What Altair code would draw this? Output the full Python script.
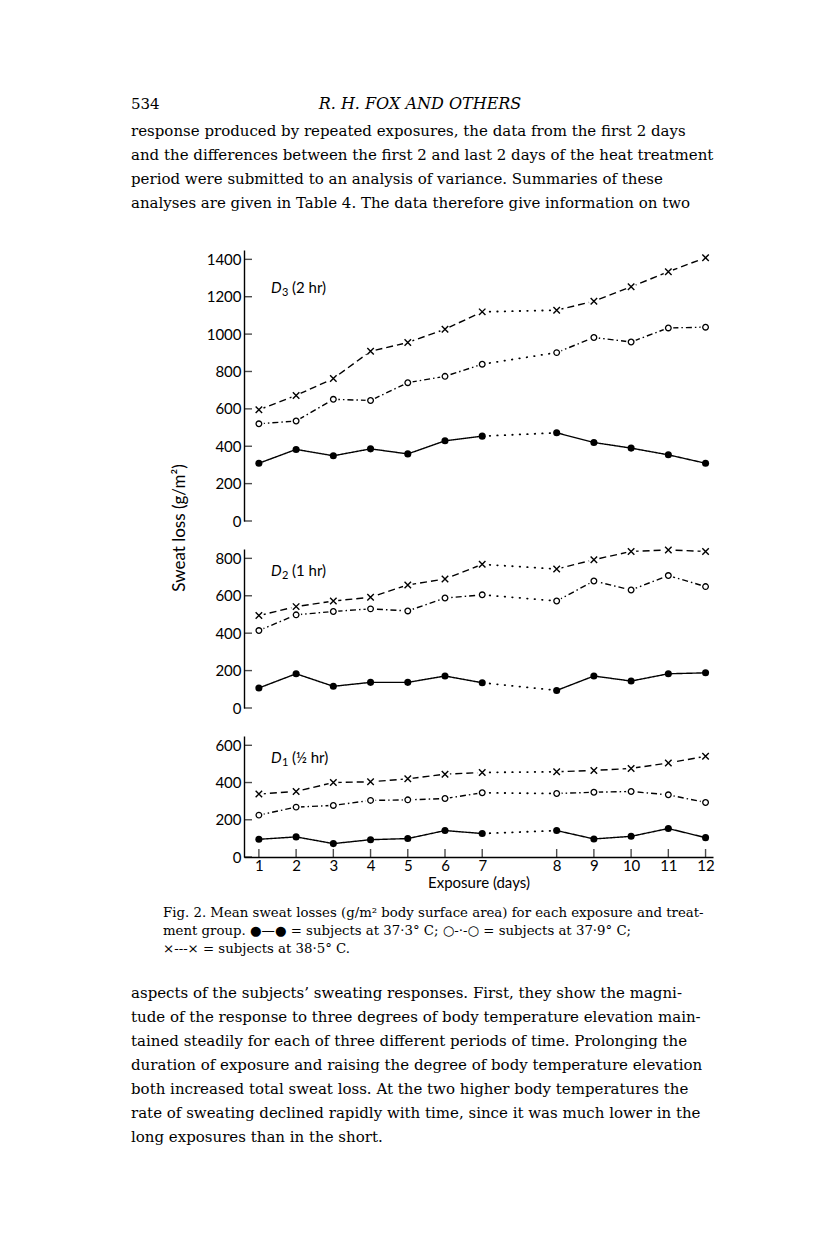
import altair as alt
import pandas as pd

# ---------------- data ----------------
days = list(range(1, 13))
groups = ["37.3", "37.9", "38.5"]

d3_filled = [309, 383, 349, 386, 359, 429, 454, 472, 420, 390, 354, 309]
d3_open = [520, 535, 651, 645, 740, 774, 839, 901, 982, 958, 1033, 1037]
d3_cross = [595, 672, 762, 908, 955, 1026, 1119, 1128, 1176, 1253, 1334, 1409]

d2_filled = [107, 183, 116, 137, 137, 171, 135, 94, 171, 144, 183, 188]
d2_open = [414, 498, 516, 530, 519, 588, 605, 572, 679, 631, 708, 649]
d2_cross = [494, 542, 572, 592, 658, 690, 768, 743, 793, 837, 845, 837]

d1_filled = [95, 108, 72, 93, 99, 142, 126, 142, 97, 111, 153, 104]
d1_open = [225, 268, 277, 304, 307, 314, 345, 341, 348, 352, 334, 293]
d1_cross = [338, 352, 400, 404, 420, 445, 454, 458, 465, 476, 505, 541]

d3_ticks = [0, 200, 400, 600, 800, 1000, 1200, 1400]
d2_ticks = [0, 200, 400, 600, 800]
d1_ticks = [0, 200, 400, 600]
day_ticks = days

panel_names = ["D3", "D2", "D1"]
panel_subs = ["3", "2", "1"]
panel_rest = ["(2 hr)", "(1 hr)", "(½ hr)"]

y_title = "Sweat loss (g/m²)"
x_title = "Exposure (days)"

header_num = "534"
header_title = "R. H. FOX AND OTHERS"
top_lines = [
    "response produced by repeated exposures, the data from the first 2 days",
    "and the differences between the first 2 and last 2 days of the heat treatment",
    "period were submitted to an analysis of variance. Summaries of these",
    "analyses are given in Table 4. The data therefore give information on two",
]
caption_lines = [
    "Fig. 2.  Mean sweat losses (g/m² body surface area) for each exposure and treat-",
    "ment group.  ●—● = subjects at 37·3° C;  ○-·-○ = subjects at 37·9° C;",
    "×---× = subjects at 38·5° C.",
]
bottom_lines = [
    "aspects of the subjects’ sweating responses.  First, they show the magni-",
    "tude of the response to three degrees of body temperature elevation main-",
    "tained steadily for each of three different periods of time.  Prolonging the",
    "duration of exposure and raising the degree of body temperature elevation",
    "both increased total sweat loss.  At the two higher body temperatures the",
    "rate of sweating declined rapidly with time, since it was much lower in the",
    "long exposures than in the short.",
]

rows = []
for pname, series in zip(panel_names, [
    (d3_filled, d3_open, d3_cross),
    (d2_filled, d2_open, d2_cross),
    (d1_filled, d1_open, d1_cross),
]):
    for g, vals in zip(groups, series):
        for d, v in zip(days, vals):
            rows.append({"panel": pname, "grp": g, "day": d, "val": v})
df = pd.DataFrame(rows)

# ---------------- styling ----------------
SANS = "Lato"
SERIF = "DejaVu Serif"
W = 469
X_MIN, X_MAX = 0.6, 13.2
xscale = alt.Scale(domain=[X_MIN, X_MAX], nice=False, zero=False)
dash_scale = alt.Scale(domain=groups, range=[[1, 0], [6, 3, 1.5, 3], [7, 4]])
CROSS = "M-1,-1L1,1M1,-1L-1,1"
POS_EXPR = "datum.day + (datum.day >= 8 ? 1 : 0)"


def make_panel(idx, ymax, h, yticks, bottom):
    name = panel_names[idx]
    yscale = alt.Scale(domain=[0, ymax], nice=False, zero=True)
    yaxis = alt.Axis(values=yticks, format="d", ticks=False, grid=False, domainColor="black",
                     domainWidth=1.4, labelFont=SANS, labelFontSize=15,
                     labelColor="black", labelPadding=3, title=None)
    if bottom:
        xaxis = alt.Axis(values=[d + (1 if d >= 8 else 0) for d in day_ticks],
                         labelExpr="datum.value >= 9 ? datum.value - 1 : datum.value",
                         ticks=False, grid=False, domainColor="black", domainWidth=1.4,
                         labelFont=SANS, labelFontSize=15, labelColor="black",
                         labelPadding=1, title=x_title, titleFont=SANS,
                         titleFontSize=15, titleFontWeight="normal",
                         titleColor="black", titlePadding=2)
        X = alt.X("pos:Q", scale=xscale, axis=xaxis)
    else:
        X = alt.X("pos:Q", scale=xscale, axis=None)
    Y = alt.Y("val:Q", scale=yscale, axis=yaxis)

    base = alt.Chart(df).transform_filter(alt.datum.panel == name).transform_calculate(
        pos=POS_EXPR,
        seg="datum.day <= 7 ? 'a' : 'b'",
    )
    lines = base.mark_line(color="black", strokeWidth=1.4).encode(
        x=X, y=Y, detail="seg:N",
        strokeDash=alt.StrokeDash("grp:N", scale=dash_scale, legend=None),
    )
    dotted = base.transform_filter("datum.day == 7 || datum.day == 8").mark_line(
        color="black", strokeWidth=1.8, strokeDash=[0.5, 7], strokeCap="round"
    ).encode(x=X, y=Y, detail="grp:N")
    halo = base.transform_filter(alt.datum.grp != groups[0]).mark_point(
        filled=True, shape="circle", color="white", size=100, opacity=1
    ).encode(x=X, y=Y)
    filled = base.transform_filter(alt.datum.grp == groups[0]).mark_point(
        filled=True, shape="circle", color="black", size=50, opacity=1
    ).encode(x=X, y=Y)
    opens = base.transform_filter(alt.datum.grp == groups[1]).mark_point(
        shape="circle", fill="white", stroke="black", strokeWidth=1.3,
        size=32, opacity=1, fillOpacity=1
    ).encode(x=X, y=Y)
    crosses = base.transform_filter(alt.datum.grp == groups[2]).mark_point(
        shape=CROSS, stroke="black", strokeWidth=1.4, size=42, opacity=1
    ).encode(x=X, y=Y)
    yt = alt.Chart(pd.DataFrame({"val": yticks})).transform_calculate(
        pos=str(X_MIN)
    ).mark_tick(
        orient="horizontal", size=8, thickness=1.4, color="black", xOffset=4
    ).encode(x=X, y=Y)
    layers = [lines, dotted, halo, filled, opens, crosses, yt]
    if bottom:
        xt = alt.Chart(pd.DataFrame({"day": day_ticks})).transform_calculate(
            pos=POS_EXPR, val="0"
        ).mark_tick(
            orient="vertical", size=8, thickness=1.4, color="black", yOffset=-4
        ).encode(x=X, y=Y)
        layers.append(xt)
    lab = pd.DataFrame({"d": ["D"], "s": [panel_subs[idx]], "r": [panel_rest[idx]]})
    ly = 38 if idx == 0 else 22
    layers.append(alt.Chart(lab).mark_text(
        font=SANS, fontSize=15, fontStyle="italic", align="left", baseline="middle", color="black"
    ).encode(x=alt.value(27), y=alt.value(ly), text="d:N"))
    layers.append(alt.Chart(lab).mark_text(
        font=SANS, fontSize=11, align="left", baseline="middle", color="black"
    ).encode(x=alt.value(38), y=alt.value(ly + 5), text="s:N"))
    layers.append(alt.Chart(lab).mark_text(
        font=SANS, fontSize=15, align="left", baseline="middle", color="black"
    ).encode(x=alt.value(48), y=alt.value(ly), text="r:N"))
    if idx == 0:
        layers.append(alt.Chart(pd.DataFrame({"t": [y_title]})).mark_text(
            font=SANS, fontSize=17, angle=270, align="center", baseline="middle", color="black"
        ).encode(x=alt.value(-64), y=alt.value(278), text="t:N"))
    return alt.layer(*layers).properties(width=W, height=h)


p3 = make_panel(0, 1450, 271, d3_ticks, False)
p2 = make_panel(1, 850, 159, d2_ticks, False)
p1 = make_panel(2, 650, 121, d1_ticks, True)

# ---------------- text blocks ----------------
top_df = pd.DataFrame({"line": top_lines, "i": list(range(len(top_lines)))})
hdr = pd.DataFrame({"a": [header_num], "b": [header_title]})
top_chart = alt.layer(
    alt.Chart(hdr).mark_text(font=SERIF, fontSize=15, align="left", baseline="middle", color="black")
    .encode(x=alt.value(-113), y=alt.value(12), text="a:N"),
    alt.Chart(hdr).mark_text(font=SERIF, fontSize=16, fontStyle="italic", align="center",
                             baseline="middle", color="black")
    .encode(x=alt.value(176), y=alt.value(12), text="b:N"),
    alt.Chart(top_df).transform_calculate(py="datum.i * 24 + 39").mark_text(
        font=SERIF, fontSize=15, align="left", baseline="middle", color="black")
    .encode(x=alt.value(-113), y=alt.Y("py:Q", scale=None, axis=None), text="line:N"),
).properties(width=W, height=130)

cap_df = pd.DataFrame({"line": caption_lines, "i": list(range(len(caption_lines)))})
bot_df = pd.DataFrame({"line": bottom_lines, "i": list(range(len(bottom_lines)))})
bottom_chart = alt.layer(
    alt.Chart(cap_df).transform_calculate(py="datum.i * 18 + 28").mark_text(
        font=SERIF, fontSize=13.3, align="left", baseline="middle", color="black")
    .encode(x=alt.value(-81), y=alt.Y("py:Q", scale=None, axis=None), text="line:N"),
    alt.Chart(bot_df).transform_calculate(py="datum.i * 24 + 108").mark_text(
        font=SERIF, fontSize=15, align="left", baseline="middle", color="black")
    .encode(x=alt.value(-113), y=alt.Y("py:Q", scale=None, axis=None), text="line:N"),
).properties(width=W, height=270)

chart = alt.vconcat(top_chart, p3, p2, p1, bottom_chart, spacing=28, bounds="flush").properties(
    padding={"left": 123, "top": 84, "right": 5, "bottom": 5},
    background="white",
).configure_view(stroke=None)

chart.save("out.html", embed_options={"renderer": "svg", "actions": False})
